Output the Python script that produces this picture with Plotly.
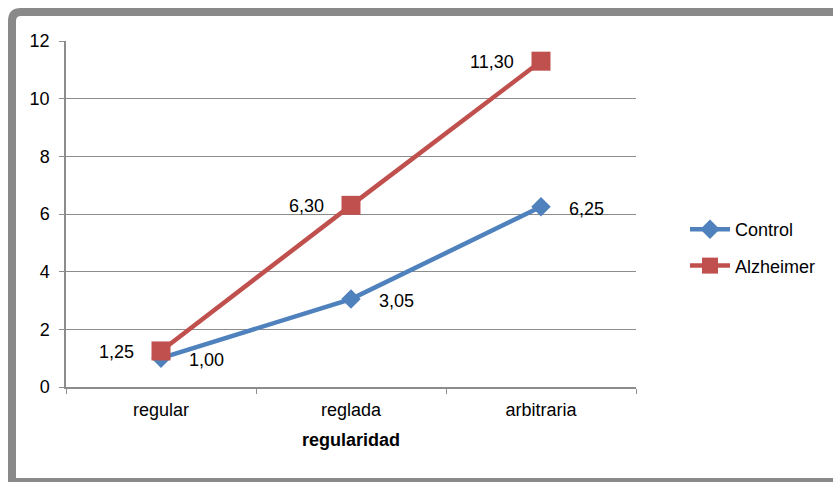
import plotly.graph_objects as go

categories = ["regular", "reglada", "arbitraria"]
control = [1.00, 3.05, 6.25]
alzheimer = [1.25, 6.30, 11.30]
control_labels = ["1,00", "3,05", "6,25"]
alzheimer_labels = ["1,25", "6,30", "11,30"]
y_ticks = [0, 2, 4, 6, 8, 10, 12]

BLUE = "#4F81BD"
RED = "#C0504D"
GRID = "#8C8C8C"
FONT = "Liberation Sans, Arial, sans-serif"
FS = 18

W, H = 833, 482
L, R, T, B = 66, 636, 41, 387

fig = go.Figure()
fig.add_trace(go.Scatter(
    x=categories, y=control, name="Control", mode="lines+markers",
    line=dict(color=BLUE, width=4.5),
    marker=dict(symbol="diamond", size=15, color=BLUE),
    legendgroup="a",
))
fig.add_trace(go.Scatter(
    x=categories, y=alzheimer, name="Alzheimer", mode="lines+markers",
    line=dict(color=RED, width=4.5),
    marker=dict(symbol="square", size=19, color=RED),
    legendgroup="b",
))

ann = []
for c, v, t in zip(categories, control, control_labels):
    ann.append(dict(x=c, y=v, text=t, showarrow=False, xanchor="left",
                    yanchor="middle", xshift=26, yshift=-2,
                    font=dict(family=FONT, size=FS, color="#000")))
for c, v, t in zip(categories, alzheimer, alzheimer_labels):
    ann.append(dict(x=c, y=v, text=t, showarrow=False, xanchor="right",
                    yanchor="middle", xshift=-25, yshift=-1,
                    font=dict(family=FONT, size=FS, color="#000")))

def px(x):
    return (x - L) / (R - L)

def py(y):
    return (B - y) / (B - T)

# outer chart border with rounded corner
x0, x1, y0, y1, r = 12, 845, 12, 482, 9
path = (f"M {px(x0)},{py(y1)} L {px(x0)},{py(y0 + r)} "
        f"Q {px(x0)},{py(y0)} {px(x0 + r)},{py(y0)} "
        f"L {px(x1)},{py(y0)} L {px(x1)},{py(y1)} Z")
shapes = [dict(type="path", xref="paper", yref="paper", path=path,
               line=dict(color="#898989", width=8), fillcolor="rgba(0,0,0,0)",
               layer="below")]

fig.update_layout(
    width=W, height=H,
    margin=dict(l=L, r=W - R, t=T, b=H - B),
    paper_bgcolor="white", plot_bgcolor="white",
    font=dict(family=FONT, size=FS, color="#000"),
    showlegend=True,
    legend=dict(x=px(685), y=py(211), xanchor="left", yanchor="top",
                traceorder="grouped", tracegroupgap=10,
                font=dict(family=FONT, size=FS, color="#000"),
                bgcolor="rgba(0,0,0,0)", itemwidth=40),
    xaxis=dict(type="category", range=[-0.5, 2.5], showgrid=False,
               showline=True, linecolor=GRID, linewidth=1.5,
               ticks="outside", tickson="boundaries", ticklen=5,
               tickcolor=GRID, ticklabelstandoff=6,
               title=dict(text="<b>regularidad</b>", standoff=14,
                          font=dict(family=FONT, size=FS)),
               tickfont=dict(family=FONT, size=FS)),
    yaxis=dict(range=[0, 12], tickvals=y_ticks, ticktext=[str(v) for v in y_ticks],
               showgrid=True, gridcolor=GRID, gridwidth=1.2,
               showline=True, linecolor=GRID, linewidth=1.5,
               ticks="outside", ticklen=5, tickcolor=GRID, ticklabelstandoff=6,
               zeroline=False, tickfont=dict(family=FONT, size=FS)),
    annotations=ann,
    shapes=shapes,
)

fig.write_html("out.html")
